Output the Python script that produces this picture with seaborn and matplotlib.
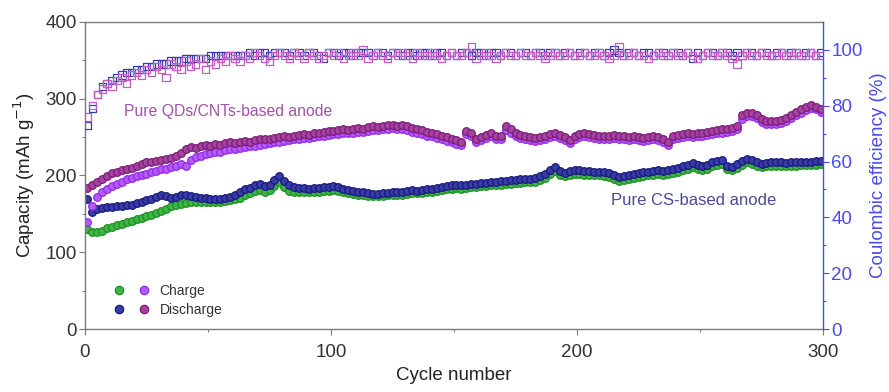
import numpy as np
import pandas as pd
import matplotlib
matplotlib.use("Agg")
import matplotlib.pyplot as plt
from matplotlib.legend_handler import HandlerTuple
from matplotlib.lines import Line2D
import seaborn as sns

# cycle numbers sampled every second cycle
cycles = list(range(1, 300, 2))

qd_discharge = [
    184, 188, 192, 195, 199, 203, 205, 207, 208, 210,
    212, 215, 217, 218, 219, 220, 222, 223, 225, 229,
    234, 237, 236, 238, 240, 239, 241, 240, 242, 243,
    242, 244, 245, 244, 246, 247, 248, 247, 249, 250,
    251, 250, 252, 253, 254, 253, 255, 256, 257, 258,
    258, 259, 260, 259, 261, 262, 261, 263, 264, 263,
    265, 266, 266, 265, 266, 264, 262, 260, 259, 257,
    256, 254, 252, 250, 248, 246, 244, 258, 255, 247,
    250, 253, 255, 252, 251, 264, 260, 256, 253, 251,
    250, 249, 250, 252, 254, 255, 253, 250, 246, 252,
    254, 255, 254, 253, 252, 251, 252, 253, 252, 251,
    250, 251, 250, 249, 250, 251, 250, 248, 244, 251,
    253, 254, 255, 254, 255, 256, 257, 258, 259, 260,
    261, 262, 264, 279, 281, 281, 279, 274, 271, 271,
    271, 272, 275, 279, 283, 286, 289, 292, 289, 286,
]
qd_charge = [
    139, 160, 172, 178, 183, 186, 189, 192, 195, 197,
    199, 200, 202, 204, 206, 208, 209, 211, 213, 215,
    213, 220, 224, 226, 228, 229, 230, 231, 233, 234,
    235, 236, 237, 238, 239, 240, 241, 242, 243, 244,
    245, 246, 247, 248, 249, 249, 250, 251, 252, 253,
    254, 254, 255, 255, 256, 257, 257, 258, 259, 259,
    260, 261, 262, 261, 261, 259, 257, 256, 254, 252,
    251, 249, 247, 245, 243, 241, 240, 254, 251, 243,
    246, 249, 251, 248, 247, 259, 256, 252, 249, 247,
    246, 245, 246, 248, 250, 251, 249, 246, 242, 248,
    250, 251, 250, 249, 248, 247, 248, 249, 248, 247,
    246, 247, 246, 245, 246, 247, 246, 244, 240, 247,
    249, 250, 251, 250, 251, 252, 253, 254, 255, 256,
    257, 258, 260, 274, 277, 277, 275, 270, 267, 267,
    267, 268, 271, 275, 279, 282, 285, 288, 286, 283,
]
cs_discharge = [
    170, 153, 156, 158, 159, 159, 160, 160, 161, 162,
    164, 166, 168, 170, 172, 174, 173, 171, 172, 175,
    174, 173, 172, 171, 171, 170, 169, 170, 171, 172,
    174, 178, 182, 184, 187, 189, 186, 188, 194, 199,
    193, 187, 185, 184, 184, 183, 184, 184, 185, 185,
    186, 185, 183, 181, 180, 179, 178, 177, 176, 176,
    177, 177, 178, 178, 179, 180, 181, 180, 181, 182,
    183, 184, 185, 186, 187, 188, 187, 188, 189, 189,
    190, 190, 191, 192, 193, 193, 194, 194, 195, 195,
    196, 197, 199, 202, 207, 211, 206, 203, 206, 207,
    207, 206, 206, 205, 205, 204, 203, 200, 198, 199,
    201, 202, 203, 204, 205, 206, 207, 206, 207, 208,
    210, 212, 214, 216, 214, 212, 214, 217, 219, 220,
    213, 211, 215, 219, 222, 220, 217, 215, 216, 217,
    217, 217, 216, 217, 217, 218, 218, 218, 219, 219,
]
cs_charge = [
    130, 126, 126, 128, 131, 133, 135, 137, 139, 141,
    143, 145, 147, 149, 151, 154, 157, 160, 162, 163,
    164, 165, 165, 166, 166, 165, 165, 166, 167, 168,
    169, 171, 174, 177, 180, 181, 179, 181, 186, 191,
    185, 180, 179, 178, 178, 178, 179, 179, 180, 180,
    181, 180, 179, 177, 176, 175, 174, 173, 173, 173,
    173, 174, 174, 175, 175, 176, 177, 177, 177, 178,
    179, 180, 181, 182, 183, 184, 183, 184, 185, 185,
    186, 186, 187, 188, 188, 189, 189, 190, 190, 191,
    191, 192, 194, 197, 202, 206, 201, 199, 201, 202,
    202, 201, 201, 200, 200, 199, 198, 195, 193, 194,
    196, 197, 198, 199, 200, 201, 202, 201, 202, 203,
    205, 207, 209, 211, 209, 207, 209, 212, 214, 215,
    209, 207, 210, 214, 217, 215, 212, 211, 212, 212,
    213, 213, 212, 213, 213, 214, 214, 214, 214, 215,
]
qd_ce = [
    76, 80, 84, 86, 88, 87, 89, 90, 88, 91,
    92, 91, 93, 92, 94, 93, 90, 95, 94, 93,
    96, 94, 95, 97, 93, 96, 95, 97, 96, 98,
    97, 96, 98, 97, 99, 98, 97, 96, 98, 99,
    98, 97, 99, 98, 97, 99, 98, 97, 98, 99,
    98, 99, 97, 98, 99, 98, 100, 97, 98, 99,
    98, 97, 99, 98, 99, 98, 97, 99, 98, 98,
    99, 98, 97, 98, 99, 98, 98, 99, 101, 97,
    98, 99, 98, 97, 98, 99, 98, 98, 99, 98,
    98, 99, 98, 97, 98, 99, 98, 98, 99, 98,
    98, 99, 98, 98, 99, 98, 97, 98, 101, 98,
    98, 99, 98, 98, 97, 98, 99, 98, 98, 99,
    98, 98, 99, 98, 97, 98, 99, 98, 98, 99,
    98, 97, 95, 98, 99, 98, 98, 99, 98, 98,
    98, 99, 98, 98, 99, 98, 98, 99, 98, 98,
]
cs_ce = [
    73, 79, 84, 87, 88, 89, 90, 91, 92, 92,
    93, 93, 94, 94, 95, 95, 95, 96, 96, 96,
    97, 97, 97, 97, 97, 98, 98, 98, 98, 98,
    98, 98, 98, 99, 98, 99, 99, 98, 99, 99,
    99, 98, 99, 99, 98, 99, 99, 98, 97, 99,
    99, 98, 99, 99, 98, 99, 99, 99, 98, 99,
    99, 98, 99, 99, 98, 99, 99, 98, 99, 99,
    98, 99, 99, 98, 99, 98, 99, 99, 98, 99,
    99, 98, 99, 99, 98, 99, 99, 98, 99, 99,
    98, 99, 99, 98, 99, 99, 98, 99, 99, 98,
    99, 99, 98, 99, 99, 98, 99, 100, 99, 98,
    99, 99, 98, 99, 99, 98, 99, 99, 98, 99,
    99, 98, 99, 97, 99, 98, 99, 99, 98, 99,
    99, 98, 99, 98, 99, 99, 98, 99, 99, 98,
    99, 99, 98, 99, 99, 98, 99, 99, 98, 99,
]

cap_ticks = [0, 100, 200, 300, 400]
ce_ticks = [0, 20, 40, 60, 80, 100]
cycle_ticks = [0, 100, 200, 300]

# (edge, face) colour pairs for the capacity markers
c_green = ("#1d8f22", "#3fb548")
c_violet = ("#9428e8", "#b45cf7")
c_navy = ("#17197e", "#3a3ca6")
c_plum = ("#7e1a7c", "#a4449f")
c_ce_qd = "#c25cc0"
c_ce_cs = "#3b3bb0"
c_axis_r = "#4a4af0"
c_spine = "#7a7a7a"

sns.set_theme(style="white")
plt.rcParams["font.family"] = ["Liberation Sans", "DejaVu Sans"]

cap = pd.DataFrame({
    "cycle": cycles,
    "CS charge": cs_charge,
    "CS discharge": cs_discharge,
    "QD charge": qd_charge,
    "QD discharge": qd_discharge,
})
ce = pd.DataFrame({"cycle": cycles, "QD": qd_ce, "CS": cs_ce})

fig = plt.figure(figsize=(8.89, 3.92), dpi=100)
ax = fig.add_axes([0.0956, 0.1607, 0.8302, 0.7832])

for col, (edge, face) in [("CS charge", c_green), ("CS discharge", c_navy),
                          ("QD charge", c_violet), ("QD discharge", c_plum)]:
    sns.scatterplot(data=cap, x="cycle", y=col, ax=ax, color=face, s=30,
                    edgecolor=edge, linewidth=0.9, legend=False)

ax.set_xlim(0, 300)
ax.set_ylim(0, 400)
ax.set_xticks(cycle_ticks)
ax.set_xticks([50, 150, 250], minor=True)
ax.set_yticks(cap_ticks)
ax.set_yticks([50, 150, 250, 350], minor=True)
ax.set_xlabel("Cycle number", fontsize=13.5, color="#222222", labelpad=4)
ax.set_ylabel("Capacity (mAh g$^{-1}$)", fontsize=13.5, color="#222222", labelpad=6)
ax.tick_params(axis="y", which="major", direction="out", length=4, width=0.8,
               color=c_spine, labelsize=13.5, labelcolor="#333333", left=True, pad=2)
ax.tick_params(axis="x", which="major", direction="out", length=4, width=0.8,
               color=c_spine, labelsize=13.5, labelcolor="#333333", bottom=True, pad=7)
ax.tick_params(axis="both", which="minor", direction="out", length=2.5, width=0.8,
               color=c_spine, left=True, bottom=True)
for side in ["left", "bottom", "top"]:
    ax.spines[side].set_color(c_spine)
    ax.spines[side].set_linewidth(1.0)
ax.spines["right"].set_visible(False)

ax2 = ax.twinx()
sns.scatterplot(data=ce, x="cycle", y="CS", ax=ax2, marker="s", s=28,
                facecolor="none", edgecolor=c_ce_cs, linewidth=0.9, legend=False)
sns.scatterplot(data=ce, x="cycle", y="QD", ax=ax2, marker="s", s=28,
                facecolor="none", edgecolor=c_ce_qd, linewidth=0.9, legend=False)
ax2.set_ylim(0, 110)
ax2.set_yticks(ce_ticks)
ax2.set_yticks([10, 30, 50, 70, 90], minor=True)
ax2.set_ylabel("Coulombic efficiency (%)", fontsize=13.5, color=c_axis_r, labelpad=5)
ax2.tick_params(axis="y", which="major", direction="out", length=4, width=0.8,
                color=c_axis_r, labelsize=13.5, labelcolor=c_axis_r, right=True, pad=2)
ax2.tick_params(axis="y", which="minor", direction="out", length=2.5, width=0.8,
                color=c_axis_r, right=True)
for side in ["left", "bottom", "top"]:
    ax2.spines[side].set_visible(False)
ax2.spines["right"].set_color(c_axis_r)
ax2.spines["right"].set_linewidth(1.0)

ax.text(16, 284, "Pure QDs/CNTs-based anode", fontsize=11.3, color="#a052a8",
        va="center", ha="left")
ax2.text(214, 46, "Pure CS-based anode", fontsize=12, color="#4a4a9a",
         va="center", ha="left")

mk = dict(marker="o", linestyle="none", markersize=6, markeredgewidth=0.9)
h_charge = (Line2D([], [], color=c_green[1], markeredgecolor=c_green[0], **mk),
            Line2D([], [], color=c_violet[1], markeredgecolor=c_violet[0], **mk))
h_dis = (Line2D([], [], color=c_navy[1], markeredgecolor=c_navy[0], **mk),
         Line2D([], [], color=c_plum[1], markeredgecolor=c_plum[0], **mk))
ax.legend([h_charge, h_dis], ["Charge", "Discharge"],
          handler_map={tuple: HandlerTuple(ndivide=None, pad=1.0)},
          loc="lower left", bbox_to_anchor=(0.022, 0.0), frameon=False,
          fontsize=10, handlelength=2.6, handletextpad=0.7, labelspacing=0.35,
          labelcolor="#333333")

fig.savefig("out.png", dpi=100)
